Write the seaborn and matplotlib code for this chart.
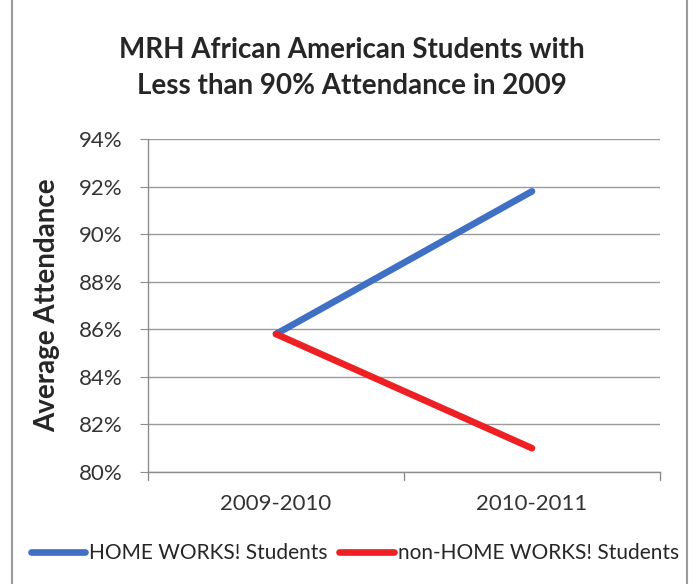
import pandas as pd
import matplotlib.pyplot as plt
import seaborn as sns
from matplotlib.patches import Rectangle
from matplotlib.ticker import FuncFormatter

years = ['2009-2010', '2010-2011']
home_works = [0.858, 0.918]
non_home_works = [0.858, 0.810]
series_names = ['HOME WORKS! Students', 'non-HOME WORKS! Students']
yticks = [0.80, 0.82, 0.84, 0.86, 0.88, 0.90, 0.92, 0.94]

data = pd.DataFrame({
    'Year': years * 2,
    'Attendance': home_works + non_home_works,
    'Group': [series_names[0]] * 2 + [series_names[1]] * 2,
})

sns.set_style('white')
plt.rcParams['font.family'] = ['Lato', 'DejaVu Sans']

fig = plt.figure(figsize=(6.96, 5.84), dpi=100)
ax = fig.add_axes([148 / 696, 1 - 472 / 584, 512 / 696, 333 / 584])

sns.lineplot(x='Year', y='Attendance', hue='Group', data=data, ax=ax,
             palette=['#4070C4', '#EE2024'], linewidth=4.8, legend=False,
             solid_capstyle='round')

ax.set_xlim(-0.5, 1.5)
ax.set_ylim(0.80, 0.94)
ax.set_yticks(yticks)
ax.yaxis.set_major_formatter(FuncFormatter(lambda v, p: f'{v * 100:.0f}%'))
ax.grid(axis='y', color='#9a9a9a', linewidth=1)
ax.set_axisbelow(True)
for s in ['top', 'right']:
    ax.spines[s].set_visible(False)
for s in ['left', 'bottom']:
    ax.spines[s].set_color('#8c8c8c')
    ax.spines[s].set_linewidth(1)
ax.tick_params(axis='y', left=True, length=6, color='#8c8c8c', labelsize=16,
               labelcolor='#333333', pad=12)
ax.tick_params(axis='x', bottom=False, labelsize=16, labelcolor='#333333', pad=12)
# category boundary tick marks
for xb in [-0.5, 0.5, 1.5]:
    ax.plot([xb, xb], [0, -0.024], transform=ax.get_xaxis_transform(),
            color='#8c8c8c', linewidth=1, clip_on=False)
ax.set_xlabel('')
ax.set_ylabel('Average Attendance', fontsize=20, fontweight='bold', labelpad=14)

fig.text(0.506, 1 - 68 / 584, 'MRH African American Students with\nLess than 90% Attendance in 2009',
         ha='center', va='center', fontsize=20, fontweight='bold', linespacing=1.45)

handles = [plt.Line2D([], [], color='#4070C4', linewidth=4.8, solid_capstyle='round'),
           plt.Line2D([], [], color='#EE2024', linewidth=4.8, solid_capstyle='round')]
fig.legend(handles, series_names, loc='center', bbox_to_anchor=(0.51, 1 - 553 / 584),
           ncol=2, frameon=False, fontsize=15, handlelength=2.6, handletextpad=0.2,
           columnspacing=0.55)

fig.patches.append(Rectangle((12 / 696, -0.01), 675 / 696, 1.02, transform=fig.transFigure,
                             fill=False, edgecolor='#999999', linewidth=1.5))

fig.savefig('out.png', dpi=100)
